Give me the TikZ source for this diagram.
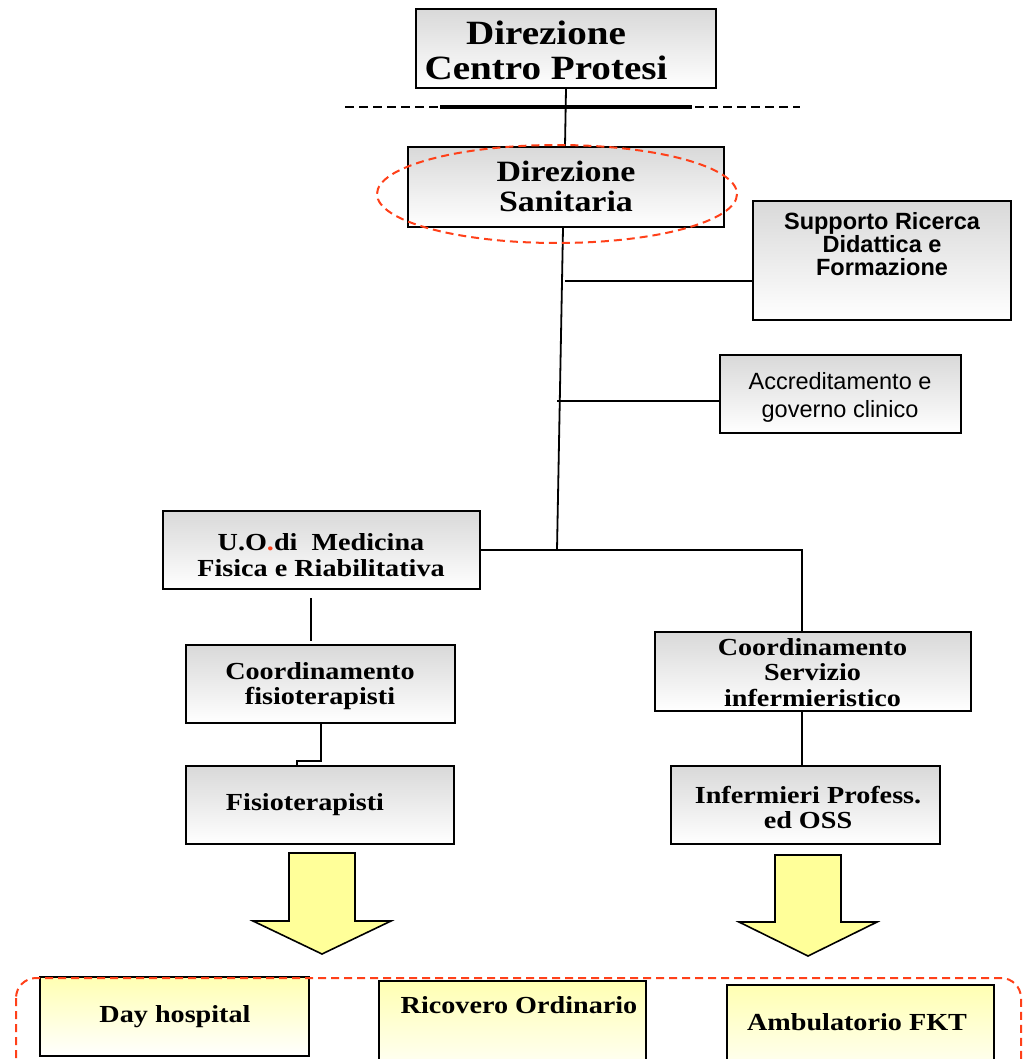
\documentclass[tikz,border=0pt]{standalone}
\usepackage{fontspec}
\setmainfont{Liberation Serif}[FakeStretch=1.15]
\setsansfont{Liberation Sans}
\definecolor{redd}{RGB}{255,64,25}
\definecolor{arrowyellow}{RGB}{255,255,153}
\begin{document}
\begin{tikzpicture}[x=1pt,y=-1pt,
  box/.style={draw, line width=2pt, rectangle, inner sep=0pt, top color=black!15, bottom color=white},
  ybox/.style={draw, line width=2pt, rectangle, inner sep=0pt, top color=arrowyellow!75, bottom color=white},
  conn/.style={draw, line width=1.8pt},
  txt/.style={inner sep=0pt, align=center, font=\fontsize{24.5}{26}\selectfont\bfseries},
  redash/.style={draw=redd, line width=2pt, dash pattern=on 8pt off 5pt},
  bigarrow/.style={draw, line width=1.6pt, fill=arrowyellow, line join=miter}]
\clip (0,0) rectangle (1026,1059);
\fill[white] (0,0) rectangle (1026,1059);

% boxes
\node[box, minimum width=300pt, minimum height=79pt] (dcp) at (566,48.5) {};
\node[txt, font=\fontsize{34}{35}\selectfont\bfseries] (tdcp) at (546,50) {Direzione\\Centro Protesi};

\node[box, minimum width=316pt, minimum height=80pt] (ds) at (566,187) {};
\node[txt, font=\fontsize{29.5}{30}\selectfont\bfseries] (tds) at (566,186) {Direzione\\Sanitaria};

\node[box, minimum width=258pt, minimum height=119pt] (supp) at (882,260.5) {};
\node[txt, font=\fontsize{23.5}{23}\selectfont\sffamily\bfseries] (tsupp) at (882,244) {Supporto Ricerca\\Didattica e\\Formazione};

\node[box, minimum width=241pt, minimum height=78pt] (accr) at (840.5,394) {};
\node[txt, font=\fontsize{23.5}{28}\selectfont\sffamily] (taccr) at (840,397) {Accreditamento e\\governo clinico};

\node[box, minimum width=317pt, minimum height=78pt] (uo) at (321.5,550) {};
\node[txt] (tuo) at (321,555) {U.O\textcolor{redd}{.}di\ \ Medicina\\Fisica e Riabilitativa};

\node[box, minimum width=269pt, minimum height=78pt] (cf) at (320.5,684) {};
\node[txt, font=\fontsize{24.5}{24.5}\selectfont\bfseries] (tcf) at (320,686) {Coordinamento\\fisioterapisti};

\node[box, minimum width=268pt, minimum height=78pt] (fis) at (320,805) {};
\node[txt] (tfis) at (305,804.5) {Fisioterapisti};

\node[box, minimum width=316pt, minimum height=79pt] (csi) at (813,671.5) {};
\node[txt, font=\fontsize{24.5}{25.5}\selectfont\bfseries] (tcsi) at (812.5,672.5) {Coordinamento\\Servizio\\infermieristico};

\node[box, minimum width=269pt, minimum height=78pt] (inf) at (805.5,805) {};
\node[txt, font=\fontsize{24.5}{25}\selectfont\bfseries] (tinf) at (808,807) {Infermieri Profess.\\ed OSS};

% connectors
\coordinate (j) at (557,550);
\coordinate (b1) at (565,281);
\coordinate (b2) at (557,401);
\coordinate (c3) at (802,550);
\draw[conn] (dcp.south) -- ([xshift=-1pt]ds.north);
\draw[conn] ([xshift=-3pt]ds.south) -- (j);
\draw[conn] (b1) -- (supp.west |- b1);
\draw[conn] (b2) -- (accr.west |- b2);
\draw[conn] (uo.east) -- (c3) -- (c3 |- csi.north);
\draw[conn, line width=2.4pt] (c3 |- csi.south) -- (c3 |- inf.north);
\draw[conn] ([xshift=-10.5pt,yshift=-8pt]uo.south) -- ([xshift=-9.5pt,yshift=3pt]cf.north);
\draw[conn] ([xshift=0.5pt]cf.south) -- ++(0,37) -| ([xshift=-23pt]fis.north);

% dashed separator
\draw[line width=2pt, dash pattern=on 9pt off 5pt] (345,107) -- (800,107);
\draw[line width=3.2pt] (440,107) -- (692,107);

% ellipse
\draw[redash] (557,194) ellipse [x radius=180, y radius=49];

% big arrows
\draw[bigarrow] (289,853) -- (355,853) -- (355,921) -- (391,921) -- (322,954) -- (253,921) -- (289,921) -- cycle;
\draw[bigarrow] (775,855) -- (841,855) -- (841,922) -- (877,922) -- (808,956) -- (739,922) -- (775,922) -- cycle;

% bottom boxes
\node[ybox, minimum width=269pt, minimum height=79pt] (dh) at (174.5,1016.5) {};
\node[txt] (tdh) at (175,1016.5) {Day hospital};
\node[ybox, minimum width=267pt, minimum height=100pt] (ro) at (512.5,1031) {};
\node[txt] (tro) at (519,1005) {Ricovero Ordinario};
\node[ybox, minimum width=267pt, minimum height=100pt] (amb) at (860.5,1035) {};
\node[txt] (tamb) at (857,1022) {Ambulatorio FKT};

\draw[redash, rounded corners=20pt] (16,978) rectangle (1021,1100);
\end{tikzpicture}
\end{document}
